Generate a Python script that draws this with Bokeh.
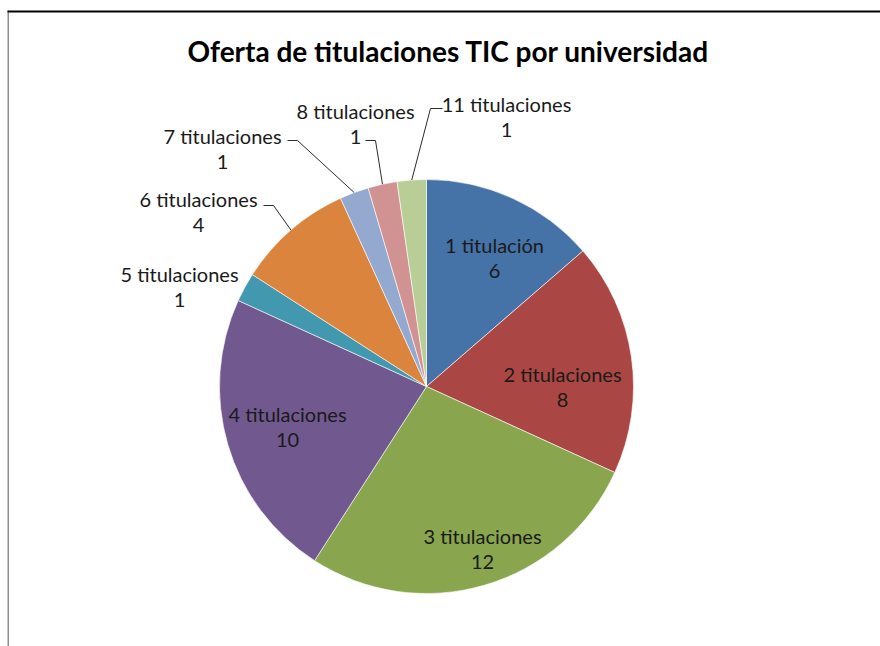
import math
from bokeh.plotting import figure
from bokeh.models import Range1d, ColumnDataSource
from bokeh.core.properties import value
from bokeh.embed import file_html
from bokeh.resources import INLINE

# ---- data ----
title_text = "Oferta de titulaciones TIC por universidad"
categories = ["1 titulación", "2 titulaciones", "3 titulaciones", "4 titulaciones",
              "5 titulaciones", "6 titulaciones", "7 titulaciones", "8 titulaciones",
              "11 titulaciones"]
values = [6, 8, 12, 10, 1, 4, 1, 1, 1]
colors = ["#4572A7", "#AA4643", "#89A54E", "#71588F", "#4198AF",
          "#DB843D", "#93A9CF", "#D19392", "#B9CD96"]

# ---- layout (page pixel coords; data y = 646 - page y) ----
W, H = 880, 646
def py(y):
    return 646 - y

cx, cy, R = 426, py(386), 207
# label anchor: (center x, page y of first line)
label_pos = [(494, 244), (562, 373), (482, 535), (287, 413), (179, 273),
             (198, 198), (222, 135), (355, 110), (506, 103)]
line_gap = 26
# leader elbows: (x_far, x_elbow, page y) or None
leaders = [None, None, None, None, None,
           (263, 273, 205), (287, 297, 140), (365, 375, 140), (442, 430, 108)]

p = figure(width=W, height=H, x_range=Range1d(0, 880), y_range=Range1d(0, 646),
           min_border=0, min_border_left=0, min_border_right=0,
           min_border_top=0, min_border_bottom=0,
           x_axis_location=None, y_axis_location=None,
           toolbar_location=None, output_backend="svg")
p.grid.visible = False
p.outline_line_color = None
p.background_fill_color = "white"
p.border_fill_color = "white"

# frame lines
p.line(x=[7.75, 7.75], y=[0, py(10)], line_color="#8C8C8C", line_width=1.5)
p.line(x=[7, 880], y=[py(11), py(11)], line_color="#000000", line_width=2)

total = float(sum(values))
starts, ends = [], []
acc = 0.0
for v in values:
    starts.append(math.pi / 2 - 2 * math.pi * acc / total)
    acc += v
    ends.append(math.pi / 2 - 2 * math.pi * acc / total)

src = ColumnDataSource(dict(start=starts, end=ends, color=colors, cat=categories,
                            val=values))
p.wedge(x=cx, y=cy, radius=R, start_angle="start", end_angle="end",
        direction="clock", fill_color="color", line_color="white",
        line_width=0.6, source=src)

# leader lines
for i, ld in enumerate(leaders):
    if ld is None:
        continue
    mid = (starts[i] + ends[i]) / 2
    ex = cx + R * math.cos(mid)
    ey = cy + R * math.sin(mid)
    xf, xe, yy = ld
    p.line(x=[xf, xe, ex], y=[py(yy), py(yy), ey], line_color="#2B2B2B",
           line_width=1)

# labels
lx = [lp[0] for lp in label_pos]
ly1 = [py(lp[1]) for lp in label_pos]
ly2 = [py(lp[1] + line_gap) for lp in label_pos]
p.text(x=lx, y=ly1, text=categories, text_font=value("Lato"),
       text_font_size=value("20px"), text_align="center",
       text_baseline="middle", text_color="#1A1A1A")
p.text(x=lx, y=ly2, text=[str(v) for v in values], text_font=value("Lato"),
       text_font_size=value("20px"), text_align="center",
       text_baseline="middle", text_color="#1A1A1A")

# title
p.text(x=[448], y=[py(50)], text=[title_text], text_font=value("Lato"),
       text_font_size=value("28px"), text_font_style="bold",
       text_align="center", text_baseline="middle", text_color="#000000")

open("out.html", "w").write(file_html(p, INLINE))
